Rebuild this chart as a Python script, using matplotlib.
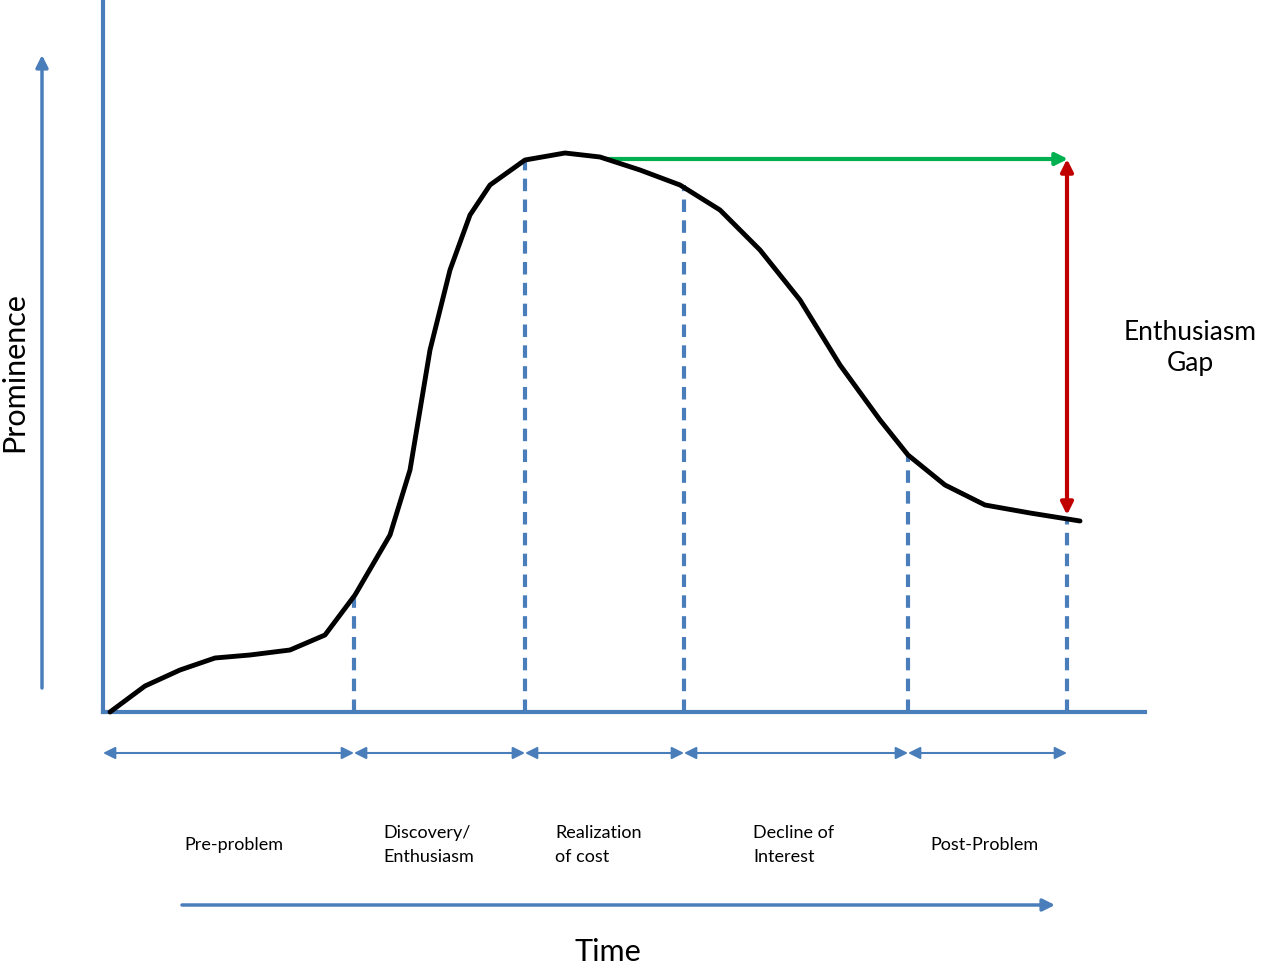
import matplotlib.pyplot as plt
from matplotlib.patches import FancyArrowPatch

# curve (x = time, y = prominence, in pixel-like units)
curve_x = [110, 145, 180, 215, 250, 290, 325, 355, 390, 410, 430, 450, 470, 490,
           525, 565, 600, 640, 680, 720, 760, 800, 840, 880, 908, 945, 985, 1030, 1080]
curve_y = [0, 26, 42, 54, 57, 62, 77, 117, 177, 242, 362, 442, 497, 527,
           552, 559, 555, 542, 527, 502, 462, 412, 347, 292, 257, 227, 207, 199, 191]

boundaries = [103, 354, 525, 684, 908, 1067]
boundary_heights = [0, 117, 552, 527, 257, 193]
phase_labels = ["Pre-problem", "Discovery/\nEnthusiasm", "Realization\nof cost",
                "Decline of\nInterest", "Post-Problem"]
label_x = [234, 383, 555, 753, 984]
label_align = ["center", "left", "left", "left", "center"]

peak_level = 553
tail_level = 197

BLUE = "#4a7ebb"
GREEN = "#00b050"
RED = "#c00000"
FONT = "Lato"

fig = plt.figure(figsize=(12.81, 9.64), dpi=100)
ax = fig.add_axes([0, 0, 1, 1])
ax.set_xlim(0, 1281)
ax.set_ylim(-252, 712)
ax.axis("off")


def arrow(p1, p2, color, style="-|>", lw=3):
    ax.add_patch(FancyArrowPatch(p1, p2, arrowstyle=style, mutation_scale=18,
                                 color=color, lw=lw, shrinkA=0, shrinkB=0))


# main axes
ax.plot([103, 103], [0, 712], color=BLUE, lw=3)
ax.plot([103, 1145], [0, 0], color=BLUE, lw=3)

# phase boundaries
for bx, bh in zip(boundaries[1:], boundary_heights[1:]):
    ax.plot([bx, bx], [0, bh], color=BLUE, lw=3, ls=(0, (3, 2)))

ax.plot(curve_x, curve_y, color="black", lw=3.5, solid_capstyle="round")

# prominence and time arrows
arrow((42, 24), (42, 657), BLUE, lw=2.5)
arrow((182, -193), (1055, -193), BLUE, lw=2.5)
ax.text(14, 340, "Prominence", rotation=90, fontsize=22, family=FONT,
        ha="center", va="center")
ax.text(608, -240, "Time", fontsize=22, family=FONT, ha="center", va="center")

# phase spans
for a, b in zip(boundaries[:-1], boundaries[1:]):
    arrow((a, -41), (b, -41), BLUE, style="<|-|>", lw=1.5)
for lx, lbl, al in zip(label_x, phase_labels, label_align):
    ax.text(lx, -133, lbl, fontsize=13, family=FONT, ha=al, va="center",
            linespacing=1.6)

# enthusiasm gap
arrow((605, peak_level), (1068, peak_level), GREEN)
arrow((1067, tail_level), (1067, peak_level), RED, style="<|-|>")
ax.text(1190, 364, "Enthusiasm\nGap", fontsize=19, family=FONT,
        ha="center", va="center", linespacing=1.3)

fig.savefig("out.png", dpi=100)
